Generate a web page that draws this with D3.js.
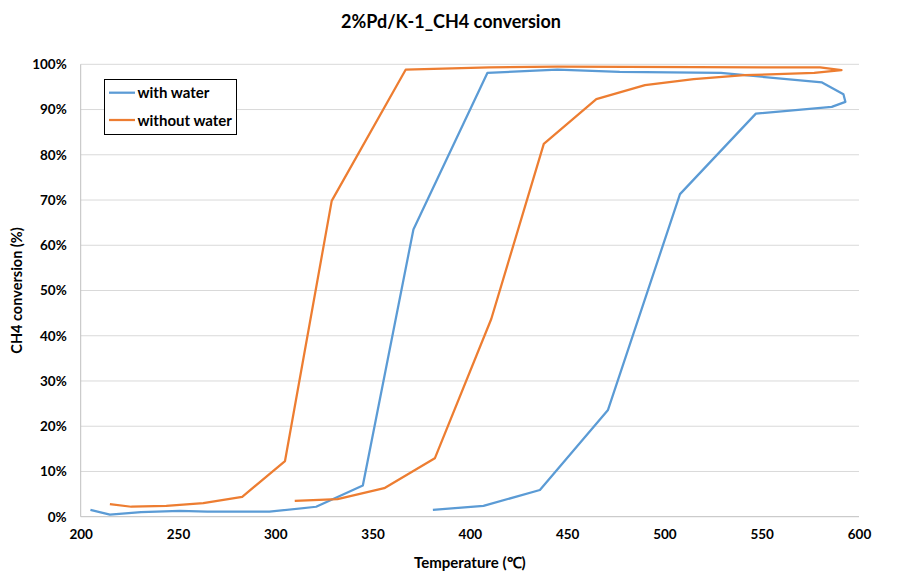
<!DOCTYPE html>
<html>
<head>
<meta charset="utf-8">
<script src="https://cdn.jsdelivr.net/npm/d3@7"></script>
<style>
  body { margin: 0; background: #fff; }
  text { font-family: Lato, "Open Sans", "Liberation Sans", sans-serif; }
</style>
</head>
<body>
<svg id="chart" width="903" height="576"></svg>
<script>
const title = "2%Pd/K-1_CH4 conversion";
const xTitle = "Temperature (℃)";
const yTitle = "CH4 conversion (%)";
const seriesNames = ["with water", "without water"];
const seriesColors = ["#5B9BD5", "#ED7D31"];

const xTicks = [200, 250, 300, 350, 400, 450, 500, 550, 600];
const yTicks = [0, 10, 20, 30, 40, 50, 60, 70, 80, 90, 100];

const withWaterT = [205, 215, 231, 251, 265, 297, 321, 345, 371, 409, 445, 477, 529, 581, 592, 593, 586, 547, 508, 471, 436, 407, 381];
const withWaterY = [1.5, 0.45, 1.0, 1.3, 1.1, 1.1, 2.2, 6.9, 63.5, 98.1, 98.8, 98.3, 98.1, 96.0, 93.4, 91.7, 90.6, 89.1, 71.3, 23.6, 5.9, 2.4, 1.5];

const withoutWaterT = [215, 226, 244, 263, 283, 305, 329, 367, 410, 445, 580, 591, 577, 541, 515, 490, 465, 438, 411, 382, 356, 332, 310];
const withoutWaterY = [2.8, 2.2, 2.4, 3.0, 4.4, 12.3, 69.8, 98.8, 99.3, 99.5, 99.3, 98.7, 98.1, 97.6, 96.7, 95.4, 92.3, 82.4, 43.7, 12.9, 6.3, 3.9, 3.5];

const series = [
  { name: seriesNames[0], color: seriesColors[0], pts: withWaterT.map((t, i) => [t, withWaterY[i]]) },
  { name: seriesNames[1], color: seriesColors[1], pts: withoutWaterT.map((t, i) => [t, withoutWaterY[i]]) }
];

const svg = d3.select("#chart");
const L = 80.7, R = 859, T = 64.3, B = 516.7;

const x = d3.scaleLinear().domain([200, 600]).range([L, R]);
const y = d3.scaleLinear().domain([0, 100]).range([B, T]);

// gridlines
svg.append("g").selectAll("line").data(yTicks.filter(d => d > 0)).join("line")
  .attr("x1", L).attr("x2", R)
  .attr("y1", d => y(d)).attr("y2", d => y(d))
  .attr("stroke", "#D9D9D9").attr("stroke-width", 1);

// axes lines
svg.append("line").attr("x1", L).attr("x2", R).attr("y1", B).attr("y2", B)
  .attr("stroke", "#BFBFBF").attr("stroke-width", 1);
svg.append("line").attr("x1", L).attr("x2", L).attr("y1", T).attr("y2", B)
  .attr("stroke", "#BFBFBF").attr("stroke-width", 1);

// tick labels via axes
const xAxis = svg.append("g").attr("transform", `translate(0,${B})`)
  .call(d3.axisBottom(x).tickValues(xTicks).tickSize(0).tickPadding(13).tickFormat(d3.format("d")));
xAxis.select(".domain").remove();
xAxis.selectAll("text").attr("font-size", 13.5).attr("font-weight", "bold").attr("fill", "#000")
  .style("font-family", "Lato, 'Open Sans', sans-serif");

const yAxis = svg.append("g").attr("transform", `translate(${L},0)`)
  .call(d3.axisLeft(y).tickValues(yTicks).tickSize(0).tickPadding(14).tickFormat(d => d + "%"));
yAxis.select(".domain").remove();
yAxis.selectAll("text").attr("font-size", 13.5).attr("font-weight", "bold").attr("fill", "#000")
  .style("font-family", "Lato, 'Open Sans', sans-serif");

// lines
const line = d3.line().x(d => x(d[0])).y(d => y(d[1]));
svg.append("g").selectAll("path").data(series).join("path")
  .attr("d", d => line(d.pts))
  .attr("fill", "none")
  .attr("stroke", d => d.color)
  .attr("stroke-width", 2.25)
  .attr("stroke-linejoin", "round");

// title
svg.append("text").attr("x", 451).attr("y", 28).attr("text-anchor", "middle")
  .attr("font-size", 18).attr("font-weight", "bold").attr("fill", "#000").text(title);

// axis titles
svg.append("text").attr("x", (L + R) / 2).attr("y", 568).attr("text-anchor", "middle")
  .attr("font-size", 15).attr("font-weight", "bold").attr("fill", "#000").text(xTitle);
svg.append("text").attr("transform", `translate(22,${(T + B) / 2}) rotate(-90)`)
  .attr("text-anchor", "middle")
  .attr("font-size", 14.5).attr("font-weight", "bold").attr("fill", "#000").text(yTitle);

// legend
const lg = svg.append("g");
lg.append("rect").attr("x", 104.5).attr("y", 79.5).attr("width", 132).attr("height", 55)
  .attr("fill", "#fff").attr("stroke", "#000").attr("stroke-width", 1);
const rows = lg.selectAll("g.row").data(series).join("g").attr("class", "row")
  .attr("transform", (d, i) => `translate(0,${92.7 + i * 27.3})`);
rows.append("line").attr("x1", 109).attr("x2", 135).attr("y1", 0).attr("y2", 0)
  .attr("stroke", d => d.color).attr("stroke-width", 2.25);
rows.append("text").attr("x", 137.5).attr("y", 5.5).attr("font-size", 15).attr("font-weight", "bold")
  .attr("fill", "#000").text(d => d.name);
</script>
</body>
</html>
